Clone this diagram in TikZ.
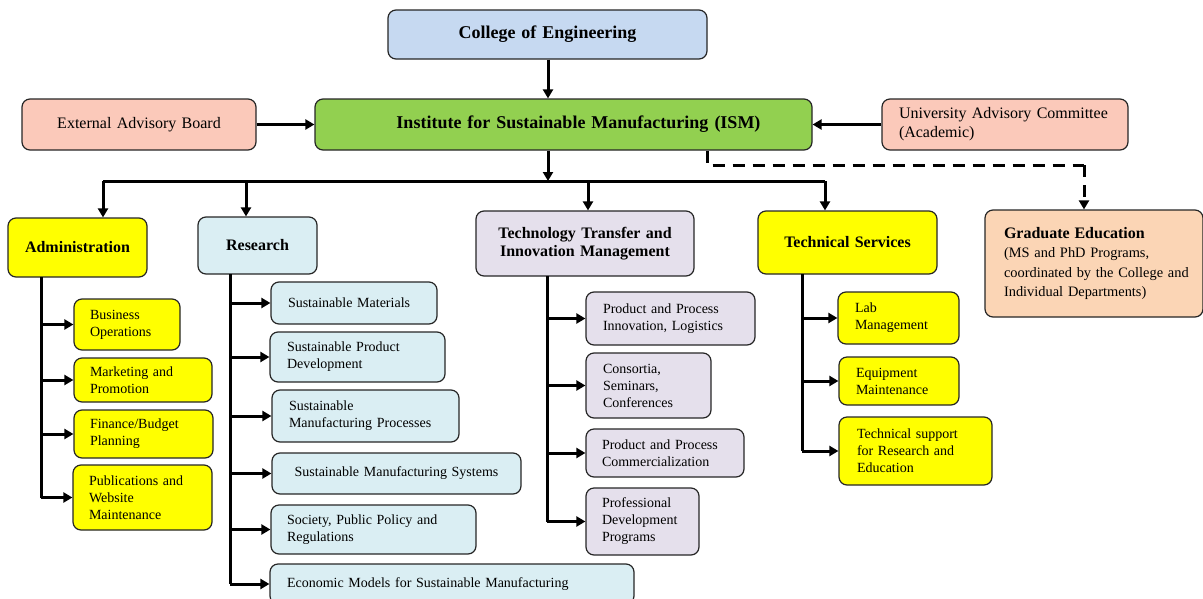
\documentclass[tikz,border=0pt]{standalone}
\usepackage{fontspec}
\setmainfont{Liberation Serif}
\usetikzlibrary{arrows.meta}
\definecolor{collegeblue}{HTML}{C6D9F1}
\definecolor{ismgreen}{HTML}{92D050}
\definecolor{advpeach}{HTML}{FBC9BA}
\definecolor{gradtan}{HTML}{FBD5B5}
\definecolor{admyellow}{HTML}{FFFF00}
\definecolor{reslblue}{HTML}{DAEEF3}
\definecolor{ttlav}{HTML}{E5E0EC}
\newcommand\nb[1]{\mbox{#1}}
% #1 style, #2 name, #3 x1, #4 y1, #5 x2, #6 y2, #7 pad, #8 text
\newcommand\bx[8]{%
  \pgfmathsetmacro\bxw{#5-#3}\pgfmathsetmacro\bxh{#6-#4}%
  \pgfmathsetmacro\bxt{#5-#3-2*#7}%
  \pgfmathsetmacro\bxcx{(#3+#5)/2}\pgfmathsetmacro\bxcy{(#4+#6)/2}%
  \node[#1, minimum width=\bxw pt, minimum height=\bxh pt, text width=\bxt pt] (#2) at (\bxcx,\bxcy) {#8};}
\tikzset{
  boxbase/.style={draw=black!85, line width=1.2pt, rounded corners=8pt, inner xsep=0pt, inner ysep=0pt},
  topbox/.style={boxbase, font=\fontsize{18}{21}\selectfont\bfseries, align=center},
  advbox/.style={boxbase, fill=advpeach, font=\fontsize{16}{19}\selectfont},
  headbox/.style={boxbase, font=\fontsize{16}{18}\selectfont\bfseries, align=center},
  childbox/.style={boxbase, font=\fontsize{14}{17}\selectfont, align=left},
  conn/.style={line width=3pt, black},
  arr/.style={conn, -{Triangle[length=9pt,width=10pt]}},
  dasharr/.style={arr, dash pattern=on 12pt off 8pt},
}
\begin{document}
\begin{tikzpicture}[x=1pt,y=-1pt]
\useasboundingbox (0,0) rectangle (1203,598);
% top level
\bx{topbox, fill=collegeblue}{col}{388}{10}{707}{59}{10}{College of Engineering}
\bx{topbox, fill=ismgreen}{ism}{315}{99}{812}{150}{10}{\hspace*{30pt}Institute for Sustainable Manufacturing (ISM)}
\bx{advbox, align=center}{ext}{22}{99}{256}{150}{10}{External Advisory Board}
\bx{advbox, align=left}{uni}{882}{99}{1128}{150}{17}{\nb{University Advisory Committee}\\(Academic)}
% second level
\bx{headbox, fill=admyellow}{adm}{8}{218}{147}{277}{6}{Administration}
\bx{headbox, fill=reslblue}{res}{198}{217}{317}{274}{6}{Research}
\bx{headbox, fill=ttlav}{ttm}{476}{211}{694}{276}{6}{Technology Transfer and\\Innovation Management}
\bx{headbox, fill=admyellow}{tec}{758}{211}{937}{274}{6}{Technical Services}
\bx{boxbase, fill=gradtan, align=left, font=\fontsize{14.4}{19.5}\selectfont}{grd}{985}{210}{1203}{317}{19}{{\fontsize{16}{19.5}\selectfont\bfseries Graduate Education}\\\nb{(MS and PhD Programs,}\\\nb{coordinated by the College and}\\\nb{Individual Departments)}}
% administration children
\bx{childbox, fill=admyellow}{bus}{74}{299}{180}{350}{16}{Business\\Operations}
\bx{childbox, fill=admyellow}{mkt}{74}{358}{212}{402}{16}{Marketing and\\Promotion}
\bx{childbox, fill=admyellow}{fin}{74}{410}{213}{458}{16}{Finance/Budget\\Planning}
\bx{childbox, fill=admyellow}{pub}{73}{465}{212}{530}{16}{Publications and\\Website\\Maintenance}
% research children
\bx{childbox, fill=reslblue}{sma}{271}{282}{437}{324}{17}{Sustainable Materials}
\bx{childbox, fill=reslblue}{spd}{270}{332}{445}{382}{17}{Sustainable Product\\Development}
\bx{childbox, fill=reslblue}{smp}{272}{390}{459}{442}{17}{Sustainable\\Manufacturing Processes}
\bx{childbox, fill=reslblue, align=center}{sms}{272}{453}{521}{494}{10}{Sustainable Manufacturing Systems}
\bx{childbox, fill=reslblue}{spp}{271}{505}{476}{554}{16}{Society, Public Policy and\\Regulations}
\bx{childbox, fill=reslblue}{eco}{270}{564}{634}{604}{17}{\nb{Economic Models for Sustainable Manufacturing}}
% technology transfer children
\bx{childbox, fill=ttlav}{ppi}{586}{292}{755}{345}{17}{Product and Process\\Innovation, Logistics}
\bx{childbox, fill=ttlav}{csc}{586}{353}{711}{418}{17}{Consortia,\\Seminars,\\Conferences}
\bx{childbox, fill=ttlav}{ppc}{586}{429}{744}{477}{16}{Product and Process\\Commercialization}
\bx{childbox, fill=ttlav}{pdp}{586}{488}{699}{555}{16}{Professional\\Development\\Programs}
% technical services children
\bx{childbox, fill=admyellow}{lab}{838}{292}{959}{344}{17}{Lab\\Management}
\bx{childbox, fill=admyellow}{eqm}{839}{357}{959}{405}{17}{Equipment\\Maintenance}
\bx{childbox, fill=admyellow}{tsr}{839}{417}{992}{485}{18}{\nb{Technical support}\\\nb{for Research and}\\Education}
% junction coordinates
\coordinate (jism) at (548,181);
\coordinate (jadm) at (103,181);
\coordinate (jres) at (246,181);
\coordinate (jttm) at (588,181);
\coordinate (jtec) at (825,181);
\coordinate (dsA) at (707,165);
\coordinate (dsB) at (1084,165);
\coordinate (vadm) at (41,277);
\coordinate (vres) at (230,274);
\coordinate (vttm) at (547,276);
\coordinate (vtec) at (802,274);
% top connectors
\draw[arr] (col.south -| jism) -- (ism.north -| jism);
\draw[arr] (ext.east) -- (ism.west);
\draw[arr] (uni.west) -- (ism.east);
\draw[arr] (ism.south -| jism) -- (jism);
\draw[conn] (jadm) -- (jtec);
\draw[arr] (jadm) -- (jadm |- adm.north);
\draw[arr] (jres) -- (jres |- res.north);
\draw[arr] (jttm) -- (jttm |- ttm.north);
\draw[arr] (jtec) -- (jtec |- tec.north);
\draw[conn, dash pattern=on 12pt off 8pt] (ism.south -| dsA) -- (dsA) -- (dsB);
\draw[dasharr] (dsB) -- (dsB |- grd.north);
% administration branch
\draw[conn] (vadm) -- (vadm |- pub.west);
\draw[arr] (vadm |- bus.west) -- (bus.west);
\draw[arr] (vadm |- mkt.west) -- (mkt.west);
\draw[arr] (vadm |- fin.west) -- (fin.west);
\draw[arr] (vadm |- pub.west) -- (pub.west);
% research branch
\draw[conn] (vres) -- (vres |- eco.west);
\draw[arr] (vres |- sma.west) -- (sma.west);
\draw[arr] (vres |- spd.west) -- (spd.west);
\draw[arr] (vres |- smp.west) -- (smp.west);
\draw[arr] (vres |- sms.west) -- (sms.west);
\draw[arr] (vres |- spp.west) -- (spp.west);
\draw[arr] (vres |- eco.west) -- (eco.west);
% technology transfer branch
\draw[conn] (vttm) -- (vttm |- pdp.west);
\draw[arr] (vttm |- ppi.west) -- (ppi.west);
\draw[arr] (vttm |- csc.west) -- (csc.west);
\draw[arr] (vttm |- ppc.west) -- (ppc.west);
\draw[arr] (vttm |- pdp.west) -- (pdp.west);
% technical services branch
\draw[conn] (vtec) -- (vtec |- tsr.west);
\draw[arr] (vtec |- lab.west) -- (lab.west);
\draw[arr] (vtec |- eqm.west) -- (eqm.west);
\draw[arr] (vtec |- tsr.west) -- (tsr.west);
\end{tikzpicture}
\end{document}
